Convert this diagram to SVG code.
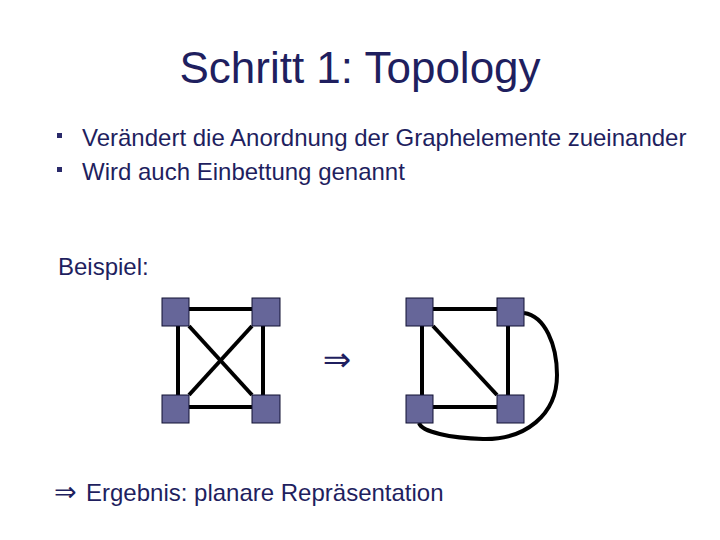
<svg xmlns="http://www.w3.org/2000/svg" width="720" height="540" viewBox="0 0 720 540">
<style>
.t{font-family:"Liberation Sans",Arial,sans-serif;fill:#1f1f5f}
.b{font-size:24px}
.node{fill:#666699;stroke:#111133;stroke-width:1}
.edge{stroke:#000;stroke-width:4;fill:none}
.bul{fill:#2a2a6a}
</style>
<rect width="720" height="540" fill="#fff"/>
<text class="t" x="360" y="83" font-size="44" text-anchor="middle">Schritt 1: Topology</text>
<rect class="bul" x="57" y="133" width="5" height="5"/>
<text class="t b" x="82" y="146">Verändert die Anordnung der Graphelemente zueinander</text>
<rect class="bul" x="57" y="167" width="5" height="5"/>
<text class="t b" x="82" y="180">Wird auch Einbettung genannt</text>
<text class="t b" x="58" y="275">Beispiel:</text>
<g id="connectors">
<line class="edge" x1="189" y1="309" x2="252" y2="309"/>
<line class="edge" x1="189" y1="407" x2="252" y2="407"/>
<line class="edge" x1="178" y1="326" x2="178" y2="395"/>
<line class="edge" x1="263" y1="326" x2="263" y2="395"/>
<line class="edge" x1="189" y1="326" x2="252" y2="395"/>
<line class="edge" x1="252" y1="326" x2="189" y2="395"/>
<line class="edge" x1="433" y1="309" x2="497" y2="309"/>
<line class="edge" x1="433" y1="407" x2="497" y2="407"/>
<line class="edge" x1="422" y1="326" x2="422" y2="395"/>
<line class="edge" x1="508" y1="326" x2="508" y2="395"/>
<line class="edge" x1="433" y1="326" x2="497" y2="395"/>
<path class="edge" d="M524,313 C545,316 557,345 557,375 C557,415 525,440 483,439 C450,438 422,432 419,423"/>
</g>
<g id="n1"><rect class="node" x="162" y="298" width="27" height="28"/></g>
<g id="n2"><rect class="node" x="252" y="298" width="28" height="28"/></g>
<g id="n3"><rect class="node" x="162" y="395" width="27" height="28"/></g>
<g id="n4"><rect class="node" x="252" y="395" width="28" height="28"/></g>
<g id="m1"><rect class="node" x="406" y="298" width="27" height="28"/></g>
<g id="m2"><rect class="node" x="497" y="298" width="27" height="28"/></g>
<g id="m3"><rect class="node" x="406" y="395" width="27" height="28"/></g>
<g id="m4"><rect class="node" x="497" y="395" width="27" height="28"/></g>
<text class="t" x="337" y="371" font-size="34" text-anchor="middle" style="font-family:'DejaVu Sans',sans-serif">⇒</text>
<text class="t b" x="54" y="501"><tspan style="font-family:'DejaVu Sans',sans-serif" font-size="27">⇒</tspan><tspan x="86">Ergebnis: planare Repräsentation</tspan></text>
</svg>
